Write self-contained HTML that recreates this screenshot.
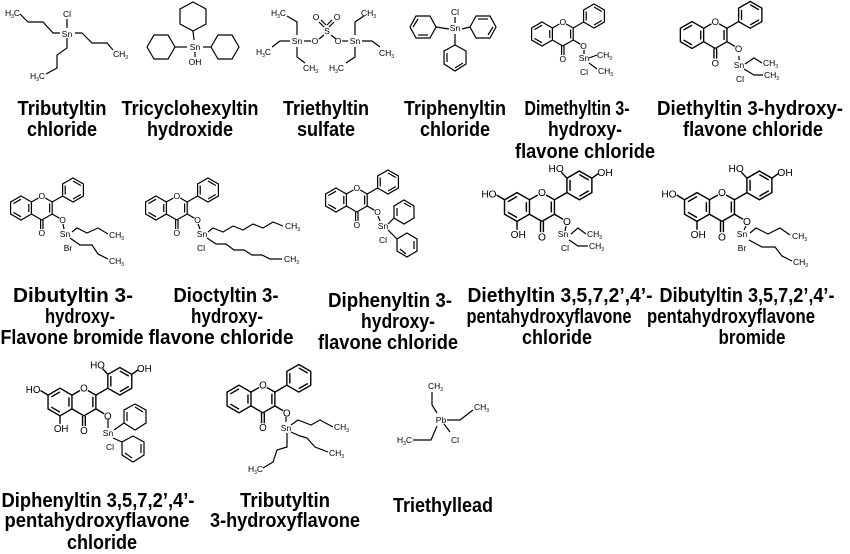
<!DOCTYPE html>
<html><head><meta charset="utf-8"><style>
html,body{margin:0;padding:0;background:#fff;width:850px;height:554px;overflow:hidden}
svg{display:block}
.b{font-family:"Liberation Sans",Arial,sans-serif;font-weight:bold;font-size:20px;fill:#000;text-anchor:middle}
.a{font-family:"Liberation Sans",Arial,sans-serif;font-size:8.5px;fill:#000}
.m{text-anchor:middle}
.e{text-anchor:end}
</style></head><body>
<svg width="850" height="554" viewBox="0 0 850 554" xmlns="http://www.w3.org/2000/svg">
<defs>
<g id="fl" stroke="#000" stroke-width="1.2" fill="none">
<polygon points="0,-12 10.4,-6 10.4,6 0,12 -10.4,6 -10.4,-6"/>
<line x1="-7.6" y1="-4.4" x2="0" y2="-8.8"/><line x1="7.8" y1="-4" x2="7.8" y2="4"/><line x1="0" y1="8.8" x2="-7.6" y2="4.4"/>
<line x1="10.4" y1="-6" x2="17.4" y2="-10"/><line x1="24.2" y1="-10" x2="31.2" y2="-6"/>
<line x1="31.2" y1="-6" x2="31.2" y2="6"/><line x1="28.6" y1="-4.5" x2="28.6" y2="4.5"/>
<line x1="31.2" y1="6" x2="20.8" y2="12"/><line x1="20.8" y1="12" x2="10.4" y2="6"/>
<line x1="19.6" y1="12" x2="19.6" y2="21"/><line x1="22" y1="12" x2="22" y2="21"/>
<line x1="31.2" y1="6" x2="38.4" y2="10.2"/>
<line x1="31.2" y1="-6" x2="41.6" y2="-12"/>
<polygon points="52,-30 62.4,-24 62.4,-12 52,-6 41.6,-12 41.6,-24"/>
<line x1="52" y1="-27" x2="59.8" y2="-22.5"/><line x1="59.8" y1="-13.5" x2="52" y2="-9"/><line x1="44.2" y1="-13.5" x2="44.2" y2="-22.5"/>
</g>
<g id="oh" stroke="#000" stroke-width="1.2" fill="none">
<line x1="-10.4" y1="-6" x2="-17" y2="-10"/>
<line x1="0" y1="12" x2="0" y2="19"/>
<line x1="41.6" y1="-24" x2="37" y2="-29"/>
<line x1="62.4" y1="-24" x2="68" y2="-28"/>
</g>
</defs>
<rect width="850" height="554" fill="#fff"/>

<g transform="translate(542,34)"><use href="#fl"/><text class="a m" x="20.8" y="-9">O</text><text class="a m" x="20.8" y="28">O</text><text class="a m" x="41.6" y="15">O</text></g>
<g transform="translate(692,35) scale(1.12)"><use href="#fl"/><text class="a m" x="20.8" y="-9">O</text><text class="a m" x="20.8" y="28">O</text><text class="a m" x="41.6" y="15">O</text></g>
<g transform="translate(21,208)"><use href="#fl"/><text class="a m" x="20.8" y="-9">O</text><text class="a m" x="20.8" y="28">O</text><text class="a m" x="41.6" y="15">O</text></g>
<g transform="translate(156,208)"><use href="#fl"/><text class="a m" x="20.8" y="-9">O</text><text class="a m" x="20.8" y="28">O</text><text class="a m" x="41.6" y="15">O</text></g>
<g transform="translate(336,200)"><use href="#fl"/><text class="a m" x="20.8" y="-9">O</text><text class="a m" x="20.8" y="28">O</text><text class="a m" x="41.6" y="15">O</text></g>
<g transform="translate(517,207) scale(1.2)"><use href="#fl"/><use href="#oh"/><text class="a m" x="20.8" y="-9">O</text><text class="a m" x="20.8" y="28">O</text><text class="a m" x="41.6" y="15">O</text><text class="a e" x="-17" y="-8">HO</text><text class="a m" x="1" y="26">OH</text><text class="a e" x="39" y="-29">HO</text><text class="a" x="67" y="-26">OH</text></g>
<g transform="translate(697,207) scale(1.2)"><use href="#fl"/><use href="#oh"/><text class="a m" x="20.8" y="-9">O</text><text class="a m" x="20.8" y="28">O</text><text class="a m" x="41.6" y="15">O</text><text class="a e" x="-17" y="-8">HO</text><text class="a m" x="1" y="26">OH</text><text class="a e" x="39" y="-29">HO</text><text class="a" x="67" y="-26">OH</text></g>
<g transform="translate(60,402) scale(1.15)"><use href="#fl"/><use href="#oh"/><text class="a m" x="20.8" y="-9">O</text><text class="a m" x="20.8" y="28">O</text><text class="a m" x="41.6" y="15">O</text><text class="a e" x="-17" y="-8">HO</text><text class="a m" x="1" y="26">OH</text><text class="a e" x="39" y="-29">HO</text><text class="a" x="67" y="-26">OH</text></g>
<g transform="translate(239,399) scale(1.15)"><use href="#fl"/><text class="a m" x="20.8" y="-9">O</text><text class="a m" x="20.8" y="28">O</text><text class="a m" x="41.6" y="15">O</text></g>

<g stroke="#000" stroke-width="1.2" fill="none">
<polyline points="20,14 28,22 43,22 53,33 60,33"/>
<line x1="67" y1="19" x2="67" y2="28"/>
<polyline points="75,33 82,33 92,43 107,43 113,50"/>
<polyline points="67,38 67,48 57,55 57,68 46,74"/>
<polygon points="193,2 206,9 206,24 193,31 180,24 180,9"/>
<line x1="193" y1="31" x2="194" y2="40"/>
<polygon points="147,47 154,35 168,35 175,47 168,59 154,59"/>
<line x1="175" y1="47" x2="187" y2="47"/>
<polygon points="211,47 218,35 232,35 239,47 232,59 218,59"/>
<line x1="203" y1="47" x2="211" y2="47"/>
<line x1="195" y1="52" x2="195" y2="57"/>
<polyline points="297,35 297,22 287,16"/>
<polyline points="290,41 280,41 272,47"/>
<polyline points="297,47 297,57 305,63"/>
<line x1="304" y1="41" x2="311" y2="41"/>
<line x1="319" y1="39" x2="324" y2="35"/><line x1="331" y1="35" x2="336" y2="39"/>
<line x1="319" y1="22" x2="324" y2="27"/><line x1="321" y1="20" x2="326" y2="25"/>
<line x1="334" y1="22" x2="329" y2="27"/><line x1="332" y1="20" x2="327" y2="25"/>
<line x1="342" y1="41" x2="348" y2="41"/>
<polyline points="355,35 355,22 364,16"/>
<polyline points="362,41 372,41 380,47"/>
<polyline points="355,47 355,57 346,63"/>
<polygon points="410,27 416,16 430,16 436,27 430,38 416,38"/>
<line x1="413" y1="27" x2="418" y2="19"/><line x1="418" y1="35" x2="428" y2="35"/>
<line x1="436" y1="27" x2="449" y2="29"/>
<polygon points="470,27 476,16 490,16 496,27 490,38 476,38"/>
<line x1="478" y1="19" x2="488" y2="19"/><line x1="493" y1="27" x2="488" y2="35"/>
<line x1="462" y1="29" x2="470" y2="27"/>
<line x1="455" y1="17" x2="455" y2="23"/>
<polygon points="455,45 466,51 466,64 455,71 444,64 444,51"/>
<line x1="455" y1="34" x2="455" y2="45"/>
<line x1="447" y1="53" x2="447" y2="62"/><line x1="455" y1="68" x2="463" y2="63"/>
<line x1="584" y1="50" x2="584" y2="54"/>
<line x1="589" y1="58" x2="597" y2="55"/>
<line x1="589" y1="63" x2="597" y2="69"/>
<line x1="739" y1="56" x2="739" y2="60"/>
<polyline points="745,64 754,58 762,63"/>
<polyline points="744,69 754,75 763,75"/>
<line x1="63" y1="224" x2="64" y2="229"/>
<polyline points="72,232 77,228 87,233 98,228 108,234"/>
<polyline points="70,238 80,245 92,245 98,254 108,259"/>
<line x1="198" y1="224" x2="200" y2="229"/>
<polyline points="208,232 213,228 223,232 233,226 243,230 253,224 263,228 273,222 283,226"/>
<polyline points="207,238 216,244 226,244 234,250 244,250 252,255 262,255 270,259 282,259"/>
<line x1="378" y1="216" x2="380" y2="221"/>
<polygon points="404,200 414,206 414,218 404,224 394,218 394,206"/>
<line x1="397" y1="208" x2="397" y2="216"/><line x1="404" y1="203" x2="411" y2="207"/>
<line x1="388" y1="224" x2="394" y2="218"/>
<polygon points="407,233 417,239 417,251 407,257 397,251 397,239"/>
<line x1="414" y1="241" x2="414" y2="249"/><line x1="400" y1="249" x2="406" y2="254"/>
<line x1="388" y1="230" x2="397" y2="239"/>
<line x1="566" y1="226" x2="565" y2="231"/>
<polyline points="571,234 578,228 586,234"/>
<polyline points="569,240 578,246 588,246"/>
<line x1="746" y1="226" x2="744" y2="230"/>
<polyline points="750,233 756,228 768,234 780,228 790,235"/>
<polyline points="749,240 762,247 775,247 782,256 792,261"/>
<line x1="108" y1="419" x2="108" y2="428"/>
<polygon points="135,404 146,410 146,423 135,430 124,423 124,410"/>
<line x1="127" y1="412" x2="127" y2="421"/><line x1="135" y1="407" x2="143" y2="412"/>
<line x1="114" y1="430" x2="124" y2="423"/>
<polygon points="133,436 144,442 144,455 133,462 122,455 122,442"/>
<line x1="141" y1="444" x2="141" y2="453"/><line x1="125" y1="453" x2="132" y2="458"/>
<line x1="113" y1="438" x2="122" y2="442"/>
<line x1="286" y1="417" x2="286" y2="422"/>
<polyline points="291,425 298,420 311,425 320,420 333,427"/>
<polyline points="291,432 300,436 307,438 315,447 328,452"/>
<polyline points="287,433 287,447 277,450 273,462 263,468"/>
<polyline points="432,392 432,405 437,413"/>
<polyline points="447,420 460,420 473,410"/>
<polyline points="413,440 431,440 437,426"/>
<line x1="444" y1="424" x2="450" y2="432"/>
</g>

<g>
<text class="a" x="5" y="16">H<tspan font-size="5" dy="2">3</tspan><tspan dy="-2">C</tspan></text>
<text class="a m" x="67" y="17">Cl</text>
<text class="a m" x="67" y="37">Sn</text>
<text class="a" x="113" y="57">CH<tspan font-size="5" dy="2">3</tspan></text>
<text class="a" x="30" y="79">H<tspan font-size="5" dy="2">3</tspan><tspan dy="-2">C</tspan></text>
<text class="a m" x="195" y="50">Sn</text>
<text class="a m" x="195" y="65">OH</text>
<text class="a" x="271" y="16">H<tspan font-size="5" dy="2">3</tspan><tspan dy="-2">C</tspan></text>
<text class="a" x="256" y="55">H<tspan font-size="5" dy="2">3</tspan><tspan dy="-2">C</tspan></text>
<text class="a" x="303" y="71">CH<tspan font-size="5" dy="2">3</tspan></text>
<text class="a m" x="297" y="44">Sn</text>
<text class="a m" x="315" y="44">O</text>
<text class="a m" x="327" y="34">S</text>
<text class="a m" x="316" y="20">O</text>
<text class="a m" x="337" y="20">O</text>
<text class="a m" x="338" y="44">O</text>
<text class="a m" x="355" y="44">Sn</text>
<text class="a" x="361" y="16">CH<tspan font-size="5" dy="2">3</tspan></text>
<text class="a" x="379" y="56">CH<tspan font-size="5" dy="2">3</tspan></text>
<text class="a" x="329" y="71">H<tspan font-size="5" dy="2">3</tspan><tspan dy="-2">C</tspan></text>
<text class="a m" x="455" y="31">Sn</text>
<text class="a m" x="455" y="15">Cl</text>
<text class="a m" x="584" y="61">Sn</text>
<text class="a m" x="584" y="75">Cl</text>
<text class="a" x="597" y="58">CH<tspan font-size="5" dy="2">3</tspan></text>
<text class="a" x="598" y="74">CH<tspan font-size="5" dy="2">3</tspan></text>
<text class="a m" x="739" y="68">Sn</text>
<text class="a m" x="740" y="82">Cl</text>
<text class="a" x="763" y="66">CH<tspan font-size="5" dy="2">3</tspan></text>
<text class="a" x="764" y="78">CH<tspan font-size="5" dy="2">3</tspan></text>
<text class="a m" x="65" y="237">Sn</text>
<text class="a m" x="68" y="251">Br</text>
<text class="a" x="109" y="238">CH<tspan font-size="5" dy="2">3</tspan></text>
<text class="a" x="109" y="264">CH<tspan font-size="5" dy="2">3</tspan></text>
<text class="a m" x="202" y="237">Sn</text>
<text class="a m" x="201" y="251">Cl</text>
<text class="a" x="285" y="229">CH<tspan font-size="5" dy="2">3</tspan></text>
<text class="a" x="284" y="262">CH<tspan font-size="5" dy="2">3</tspan></text>
<text class="a m" x="383" y="229">Sn</text>
<text class="a m" x="383" y="243">Cl</text>
<text class="a m" x="563" y="237">Sn</text>
<text class="a m" x="565" y="251">Cl</text>
<text class="a" x="587" y="237">CH<tspan font-size="5" dy="2">3</tspan></text>
<text class="a" x="589" y="249">CH<tspan font-size="5" dy="2">3</tspan></text>
<text class="a m" x="742" y="237">Sn</text>
<text class="a m" x="742" y="251">Br</text>
<text class="a" x="792" y="239">CH<tspan font-size="5" dy="2">3</tspan></text>
<text class="a" x="793" y="265">CH<tspan font-size="5" dy="2">3</tspan></text>
<text class="a m" x="108" y="436">Sn</text>
<text class="a m" x="110" y="450">Cl</text>
<text class="a m" x="286" y="431">Sn</text>
<text class="a" x="334" y="430">CH<tspan font-size="5" dy="2">3</tspan></text>
<text class="a" x="329" y="456">CH<tspan font-size="5" dy="2">3</tspan></text>
<text class="a" x="248" y="472">H<tspan font-size="5" dy="2">3</tspan><tspan dy="-2">C</tspan></text>
<text class="a" x="428" y="389">CH<tspan font-size="5" dy="2">3</tspan></text>
<text class="a m" x="441" y="423">Pb</text>
<text class="a" x="474" y="410">CH<tspan font-size="5" dy="2">3</tspan></text>
<text class="a" x="397" y="443">H<tspan font-size="5" dy="2">3</tspan><tspan dy="-2">C</tspan></text>
<text class="a m" x="455" y="443">Cl</text>
</g>

<g>
<text class="b" x="62" y="115" textLength="89" lengthAdjust="spacingAndGlyphs">Tributyltin</text>
<text class="b" x="62" y="136" textLength="70" lengthAdjust="spacingAndGlyphs">chloride</text>
<text class="b" x="190" y="115" textLength="137" lengthAdjust="spacingAndGlyphs">Tricyclohexyltin</text>
<text class="b" x="190" y="136" textLength="86" lengthAdjust="spacingAndGlyphs">hydroxide</text>
<text class="b" x="326" y="115" textLength="86" lengthAdjust="spacingAndGlyphs">Triethyltin</text>
<text class="b" x="326" y="136" textLength="58" lengthAdjust="spacingAndGlyphs">sulfate</text>
<text class="b" x="455" y="115" textLength="102" lengthAdjust="spacingAndGlyphs">Triphenyltin</text>
<text class="b" x="455" y="136" textLength="70" lengthAdjust="spacingAndGlyphs">chloride</text>
<text class="b" x="577" y="115" textLength="105" lengthAdjust="spacingAndGlyphs">Dimethyltin 3-</text>
<text class="b" x="585" y="136" textLength="74" lengthAdjust="spacingAndGlyphs">hydroxy-</text>
<text class="b" x="585" y="158" textLength="140" lengthAdjust="spacingAndGlyphs">flavone chloride</text>
<text class="b" x="750" y="115" textLength="186" lengthAdjust="spacingAndGlyphs">Diethyltin 3-hydroxy-</text>
<text class="b" x="753" y="136" textLength="140" lengthAdjust="spacingAndGlyphs">flavone chloride</text>

<text class="b" x="73" y="302" textLength="120" lengthAdjust="spacingAndGlyphs">Dibutyltin 3-</text>
<text class="b" x="80" y="323" textLength="70" lengthAdjust="spacingAndGlyphs">hydroxy-</text>
<text class="b" x="72" y="344" textLength="143" lengthAdjust="spacingAndGlyphs">Flavone bromide</text>
<text class="b" x="226" y="302" textLength="105" lengthAdjust="spacingAndGlyphs">Dioctyltin 3-</text>
<text class="b" x="227" y="323" textLength="72" lengthAdjust="spacingAndGlyphs">hydroxy-</text>
<text class="b" x="221" y="344" textLength="145" lengthAdjust="spacingAndGlyphs">flavone chloride</text>
<text class="b" x="390" y="307" textLength="124" lengthAdjust="spacingAndGlyphs">Diphenyltin 3-</text>
<text class="b" x="398" y="328" textLength="74" lengthAdjust="spacingAndGlyphs">hydroxy-</text>
<text class="b" x="388" y="349" textLength="140" lengthAdjust="spacingAndGlyphs">flavone chloride</text>
<text class="b" x="560" y="302" textLength="185" lengthAdjust="spacingAndGlyphs">Diethyltin 3,5,7,2’,4’-</text>
<text class="b" x="549" y="323" textLength="165" lengthAdjust="spacingAndGlyphs">pentahydroxyflavone</text>
<text class="b" x="557" y="344" textLength="70" lengthAdjust="spacingAndGlyphs">chloride</text>
<text class="b" x="747" y="302" textLength="175" lengthAdjust="spacingAndGlyphs">Dibutyltin 3,5,7,2’,4’-</text>
<text class="b" x="731" y="323" textLength="168" lengthAdjust="spacingAndGlyphs">pentahydroxyflavone</text>
<text class="b" x="752" y="344" textLength="67" lengthAdjust="spacingAndGlyphs">bromide</text>

<text class="b" x="98" y="507" textLength="193" lengthAdjust="spacingAndGlyphs">Diphenyltin 3,5,7,2’,4’-</text>
<text class="b" x="97" y="527" textLength="185" lengthAdjust="spacingAndGlyphs">pentahydroxyflavone</text>
<text class="b" x="102" y="549" textLength="70" lengthAdjust="spacingAndGlyphs">chloride</text>
<text class="b" x="285" y="507" textLength="90" lengthAdjust="spacingAndGlyphs">Tributyltin</text>
<text class="b" x="285" y="527" textLength="150" lengthAdjust="spacingAndGlyphs">3-hydroxyflavone</text>
<text class="b" x="443" y="512" textLength="100" lengthAdjust="spacingAndGlyphs">Triethyllead</text>
</g>
</svg>
</body></html>
